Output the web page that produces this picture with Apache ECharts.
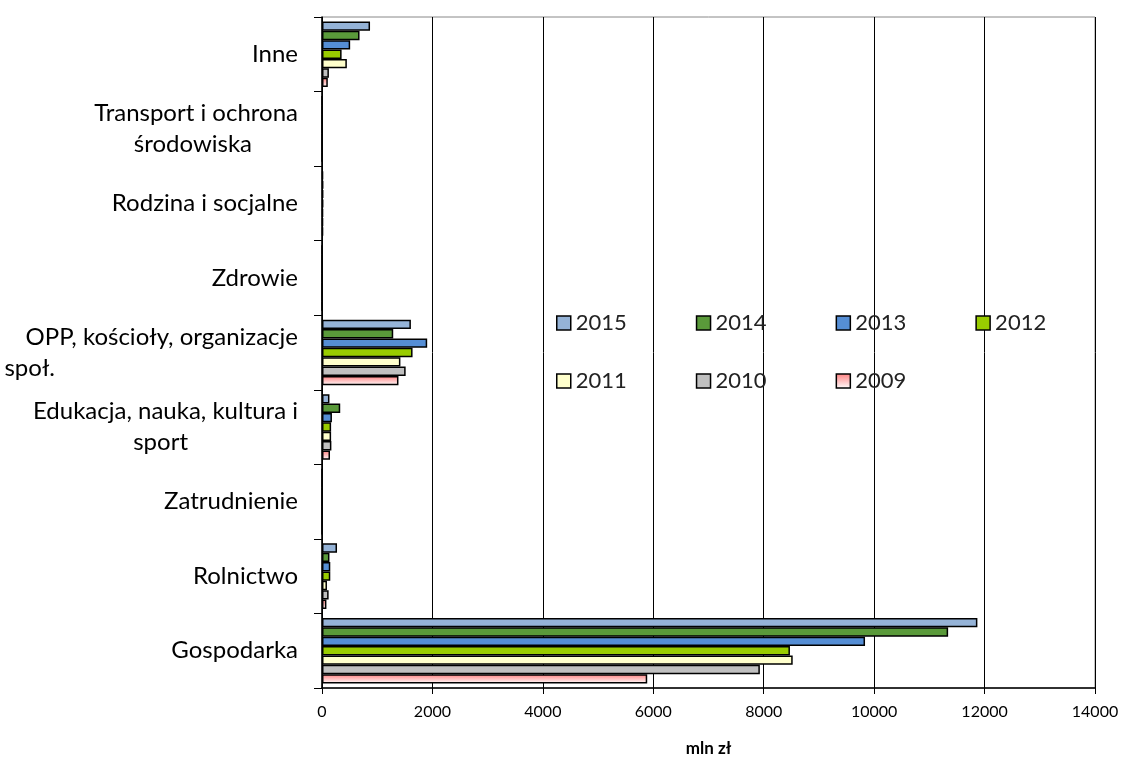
<!DOCTYPE html>
<html><head><meta charset="utf-8">
<script src="https://cdn.jsdelivr.net/npm/echarts@6/dist/echarts.min.js"></script>
<style>html,body{margin:0;padding:0;background:#fff}#c{width:1125px;height:757px}</style>
</head><body><div id="c"></div>
<script>
const categories = ['Gospodarka','Rolnictwo','Zatrudnienie','Edukacja, nauka, kultura i\nsport','OPP, kościoły, organizacje\nspoł.','Zdrowie','Rodzina i socjalne','Transport i ochrona\nśrodowiska','Inne'];
const years = ['2015','2014','2013','2012','2011','2010','2009'];
const v2015 = [11870, 272, 0, 135, 1610, 0, 20, 0, 870];
const v2014 = [11340, 135, 0, 330, 1290, 0, 25, 0, 680];
const v2013 = [9835, 150, 0, 180, 1905, 0, 25, 0, 510];
const v2012 = [8475, 150, 0, 165, 1640, 0, 25, 0, 355];
const v2011 = [8525, 90, 0, 165, 1420, 0, 20, 0, 450];
const v2010 = [7930, 120, 0, 170, 1515, 0, 20, 0, 125];
const v2009 = [5890, 80, 0, 145, 1385, 0, 20, 0, 105];
const xTicks = [0,2000,4000,6000,8000,10000,12000,14000];
const values = [v2015,v2014,v2013,v2012,v2011,v2010,v2009];
const colors = ['#95b3d7','#5a9a3a','#558ed5','#99cc00','#ffffcc','#c0c0c0',
  {type:'linear',x:0,y:0,x2:0,y2:1,colorStops:[{offset:0,color:'#ff7f7f'},{offset:1,color:'#ffffff'}]}];
const chart = echarts.init(document.getElementById('c'));
const font = 'Lato, "Open Sans", sans-serif';
const secondLinePad = {'środowiska':46,'sport':110,'społ.':243};
const legendCommon = {
  left:551, itemWidth:14, itemHeight:14, itemGap:69, icon:'rect',
  textStyle:{fontFamily:font,fontSize:22,color:'#222'},
  itemStyle:{borderColor:'#000',borderWidth:1.5}
};
chart.setOption({
  animation:false,
  grid:{left:322,right:30,top:17,bottom:69,show:true,borderColor:'#888',borderWidth:1,outerBoundsMode:'none',containLabel:false},
  legend:[
    Object.assign({data:years.slice(0,4),top:307},legendCommon),
    Object.assign({data:years.slice(4),top:365},legendCommon)
  ],
  xAxis:{type:'value',min:0,max:14000,interval:2000,
    axisLine:{show:true,lineStyle:{color:'#000',width:1.5}},
    axisTick:{show:true,length:6,lineStyle:{color:'#000'}},
    axisLabel:{fontFamily:font,fontSize:16,color:'#000',margin:16,formatter:v=>String(v)},
    splitLine:{show:true,lineStyle:{color:'#000',width:1}},
    name:'mln zł',nameLocation:'middle',nameGap:52,
    nameTextStyle:{fontFamily:font,fontSize:17,fontWeight:'bold',color:'#000'}
  },
  yAxis:{type:'category',data:categories,
    axisLine:{show:true,lineStyle:{color:'#000',width:1.5}},
    axisTick:{show:true,length:8,lineStyle:{color:'#000'}},
    axisLabel:{fontFamily:font,fontSize:24,color:'#000',align:'right',margin:24,lineHeight:31,
      formatter:function(v){
        const parts=v.split('\n');
        if(parts.length<2) return v;
        const p=secondLinePad[parts[1]]||0;
        return parts[0]+'\n'+parts[1]+'{pad|}'.replace('pad','p'+p);
      },
      rich:{p46:{width:46},p110:{width:110},p243:{width:243},p0:{width:0}}
    }
  },
  series: years.map((y,i)=>({
    name:y,type:'bar',data:values[i],
    barGap:'0%',barCategoryGap:'12%',
    itemStyle:{color:colors[i],borderColor:'#000',borderWidth:1.5},
    emphasis:{disabled:true}
  }))
});
</script></body></html>
